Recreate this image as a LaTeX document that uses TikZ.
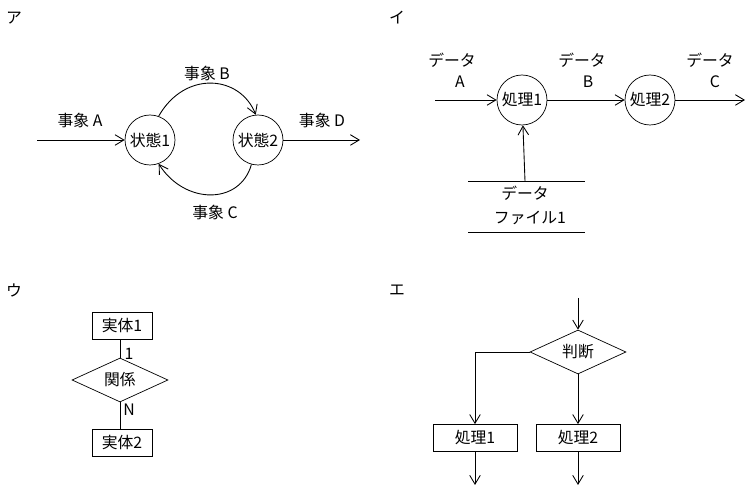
\documentclass[tikz,border=0pt]{standalone}
\usepackage{fontspec}
\setmainfont{Noto Sans CJK JP}
\usetikzlibrary{shapes.geometric,arrows.meta}
\begin{document}
\begin{tikzpicture}[x=0.02cm,y=-0.02cm,font=\fontsize{9}{10}\selectfont,
  st/.style={draw,circle,minimum size=50*0.02cm,inner sep=0pt},
  bx/.style={draw,minimum width=60*0.02cm,minimum height=27*0.02cm,inner sep=0pt},
  bx2/.style={draw,minimum width=84*0.02cm,minimum height=27*0.02cm,inner sep=0pt},
  dm/.style={draw,diamond,aspect=2.2,minimum width=96*0.02cm,minimum height=44*0.02cm,inner sep=0pt},
  ar/.style={-{Straight Barb[length=5pt,width=6pt]},line width=0.5pt},
  ln/.style={line width=0.5pt},
  lb/.style={inner sep=1pt}]
\useasboundingbox (0,0) rectangle (752,486);
% labels
\node[lb] (la) at (14,18) {ア};
\node[lb] (li) at (397,18) {イ};
\node[lb] (lu) at (14,290) {ウ};
\node[lb] (le) at (397,290) {エ};
% ア
\node[st] (s1) at (150,140) {状態1};
\node[st] (s2) at (258,140) {状態2};
\coordinate (ain) at (37,140);
\coordinate (aout) at (360,140);
\draw[ar] (ain) -- (s1);
\draw[ar] (s2) -- (aout);
\node[lb] (ea) at (80,120) {事象 A};
\node[lb] (ed) at (322,120) {事象 D};
\draw[ar] (s1.70) .. controls (185,70) and (240,75) .. (s2.95);
\draw[ar] (s2.-105) .. controls (240,205) and (185,205) .. (s1.-70);
\node[lb] (eb) at (207,73) {事象 B};
\node[lb] (ec) at (215,212) {事象 C};
% イ
\node[st] (p1) at (522,100) {処理1};
\node[st] (p2) at (650,100) {処理2};
\coordinate (iin) at (435,100);
\coordinate (iout) at (745,100);
\draw[ar] (iin) -- (p1);
\draw[ar] (p1) -- (p2);
\draw[ar] (p2) -- (iout);
\node[lb] (d1) at (452,60) {データ};
\node[lb] (d1a) at (460,82) {A};
\node[lb] (d2) at (582,60) {データ};
\node[lb] (d2b) at (588,82) {B};
\node[lb] (d3) at (710,60) {データ};
\node[lb] (d3c) at (715,82) {C};
\coordinate (f1) at (468,181);
\coordinate (f2) at (585,181);
\coordinate (f3) at (468,232);
\coordinate (f4) at (585,232);
\coordinate (fs) at (525,181);
\draw[ln] (f1) -- (f2);
\draw[ln] (f3) -- (f4);
\node[lb] (ft1) at (525,193) {データ};
\node[lb] (ft2) at (530,218) {ファイル1};
\draw[ar] (fs) -- (p1);
% ウ
\node[bx] (e1) at (122,326) {実体1};
\node[dm] (r) at (120,380) {関係};
\node[bx] (e2) at (122,443) {実体2};
\draw[ln] (e1.south-|r) -- (r);
\draw[ln] (r) -- (e2.north-|r);
\node[lb] (n1) at (129,354) {1};
\node[lb] (nn) at (129,410) {N};
% エ
\node[dm] (j) at (578,352) {判断};
\node[bx2] (q1) at (475,438) {処理1};
\node[bx2] (q2) at (578,438) {処理2};
\coordinate (jin) at (578,298);
\coordinate (jl) at (475,352);
\coordinate (o1) at (475,485);
\coordinate (o2) at (578,485);
\draw[ar] (jin) -- (j);
\draw[ar] (j.west) -- (jl) -- (q1);
\draw[ar] (j) -- (q2);
\draw[ar] (q1) -- (o1);
\draw[ar] (q2) -- (o2);
\end{tikzpicture}
\end{document}
